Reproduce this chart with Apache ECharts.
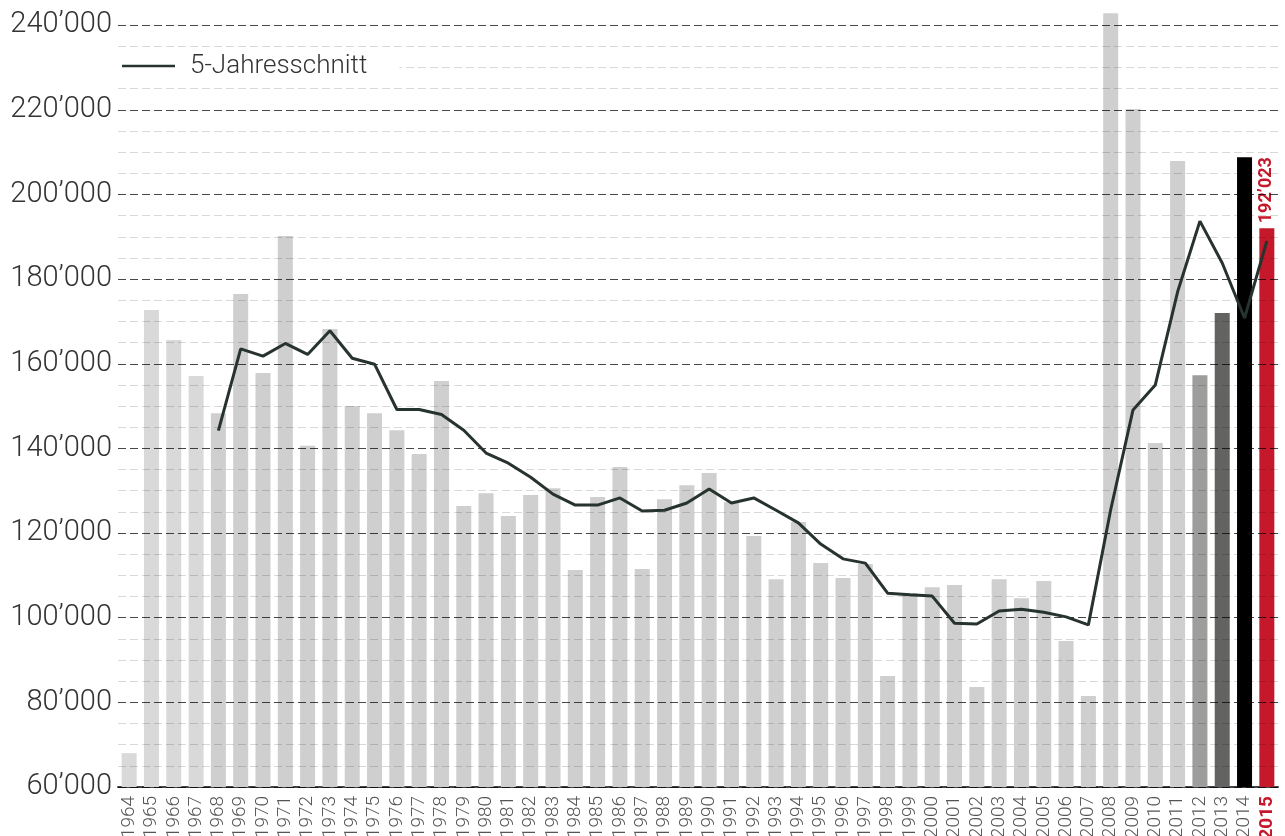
<!DOCTYPE html>
<html>
<head>
<meta charset="utf-8">
<script src="https://cdn.jsdelivr.net/npm/echarts@6/dist/echarts.min.js"></script>
<style>
html,body{margin:0;padding:0;background:#fff;}
#chart{width:1285px;height:836px;}
</style>
</head>
<body>
<div id="chart"></div>
<script>
const years = ['1964','1965','1966','1967','1968','1969','1970','1971','1972','1973','1974','1975','1976','1977','1978','1979','1980','1981','1982','1983','1984','1985','1986','1987','1988','1989','1990','1991','1992','1993','1994','1995','1996','1997','1998','1999','2000','2001','2002','2003','2004','2005','2006','2007','2008','2009','2010','2011','2012','2013','2014','2015'];
const values = [68000,172700,165600,157100,148300,176500,157800,190200,140600,168200,150000,148300,144300,138700,155900,126400,129400,124000,129000,130600,111300,128500,135600,111500,128000,131300,134200,127300,119300,109100,122600,112900,109400,112700,86200,105800,107200,107700,83600,109100,104600,108700,94500,81500,242800,220200,141300,207900,157300,172000,208800,192023];
const avg5 = [null,null,null,null,144200,163500,161800,164800,162200,167800,161300,159900,149200,149200,148000,144300,138900,136500,133200,129200,126600,126600,128300,125200,125400,127100,130400,127100,128300,125400,122400,117400,113900,112900,105800,105400,105100,98700,98500,101600,102000,101300,100200,98300,125500,149100,155000,177000,193700,183800,170800,189000];
const seriesName = '5-Jahresschnitt';
const yMin = 60000, yMax = 245000, yStep = 5000, yMajor = 20000;

const FONT = 'Roboto';
const RED = '#c5192b';
const LINE = '#27332d';
const specialColors = {'2012':'#9d9d9c','2013':'#636362','2014':'#000000','2015':RED};
function barColor(year){
  if (specialColors[year]) return specialColors[year];
  return (+year < 1968) ? '#d9d9d9' : '#cfcfcf';
}
function fmt(v){ return Math.floor(v/1000) + '\u2019' + String(v%1000).padStart(3,'0'); }

const lastIdx = years.length - 1;
const barData = values.map((v,i)=>{
  const item = {value: v, itemStyle: {color: barColor(years[i])}};
  if (i === lastIdx) {
    item.label = {
      show: true, position: 'top', rotate: 90, align: 'left', verticalAlign: 'middle',
      distance: 5, color: RED, fontFamily: FONT, fontWeight: 'bold', fontSize: 18,
      formatter: (p)=>fmt(p.value)
    };
  }
  return item;
});

const nTicks = Math.round((yMax - yMin)/yStep) + 1;
const lineColors = [];
for (let i=0;i<nTicks;i++){
  const v = yMin + i*yStep;
  lineColors.push(v % yMajor === 0 ? 'rgba(0,0,0,0.72)' : 'rgba(0,0,0,0.15)');
}

const chart = echarts.init(document.getElementById('chart'), null, {renderer:'canvas'});
chart.setOption({
  animation: false,
  backgroundColor: '#fff',
  grid: {left: 118, right: 7, top: 4, bottom: 49, containLabel: false, outerBoundsMode: 'none'},
  legend: {
    show: true, left: 116, top: 49, z: 10,
    backgroundColor: '#fff', padding: [4, 32, 4, 6],
    itemWidth: 53, itemHeight: 14,
    data: [{name: seriesName, icon: 'path://M0,0L53,0L53,2.6L0,2.6Z', itemStyle: {color: LINE}}],
    textStyle: {fontFamily: FONT, fontWeight: 300, fontSize: 26, color: '#333', padding: [0,0,0,10]}
  },
  xAxis: {
    type: 'category', data: years, boundaryGap: true,
    axisLine: {show: true, lineStyle: {color: '#444', width: 2}},
    axisTick: {show: false},
    splitLine: {show: false},
    axisLabel: {
      interval: 0, rotate: 90, margin: 9, fontFamily: FONT, fontWeight: 300, fontSize: 19, color: '#555',
      formatter: (v, i)=> i === lastIdx ? '{r|' + v + '}' : v,
      rich: {r: {color: RED, fontWeight: 'bold', fontFamily: FONT, fontSize: 19}}
    }
  },
  yAxis: {
    type: 'value', min: yMin, max: yMax, interval: yStep, z: 5,
    axisLine: {show: false}, axisTick: {show: false},
    axisLabel: {
      margin: 6, fontFamily: FONT, fontWeight: 300, fontSize: 29, color: '#333',
      formatter: (v)=> (v % yMajor === 0 && v <= 240000) ? fmt(v) : ''
    },
    splitLine: {show: true, showMaxLine: false, lineStyle: {color: lineColors, type: [8,4], width: 1}}
  },
  series: [
    {type: 'bar', data: barData, barWidth: 15, z: 2},
    {type: 'line', name: seriesName, data: avg5, symbol: 'none', z: 10,
     lineStyle: {color: LINE, width: 3}, itemStyle: {color: LINE}}
  ]
});
</script>
</body>
</html>
